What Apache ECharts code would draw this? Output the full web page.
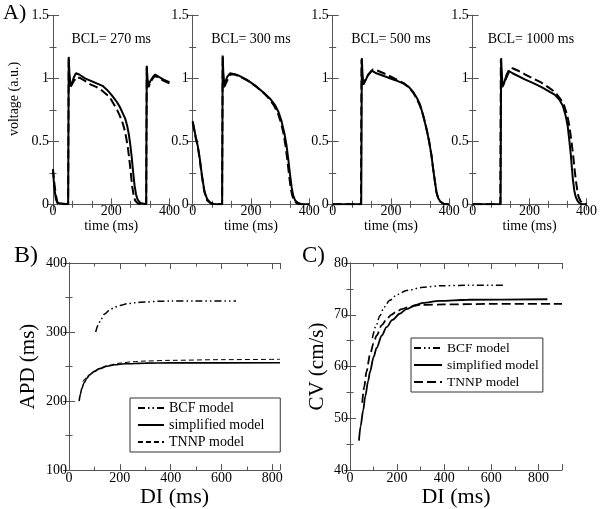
<!DOCTYPE html>
<html>
<head>
<meta charset="utf-8">
<script src="https://cdn.jsdelivr.net/npm/echarts@6/dist/echarts.min.js"></script>
<style>
html,body{margin:0;padding:0;background:#fff;}
#c{width:600px;height:509px;}
</style>
</head>
<body>
<div id="c"></div>
<script>
// ---------- DATA ----------
// Panel A: action potentials [time (ms), voltage (a.u.)]
const bclLabels = ['BCL= 270 ms', 'BCL= 300 ms', 'BCL= 500 ms', 'BCL= 1000 ms'];

const ap270Simplified = [[0,0.26],[5,0.12],[10,0.04],[15,0.01],[20,0],[52,0],[53,0.6],[54,1.17],[56,1.05],[60,0.94],[66,0.97],[72,1.01],[79,1.04],[90,1.03],[110,1.0],[130,0.98],[150,0.96],[170,0.94],[185,0.91],[200,0.87],[210,0.84],[220,0.81],[230,0.77],[240,0.72],[248,0.68],[255,0.62],[260,0.56],[265,0.48],[270,0.38],[275,0.26],[280,0.15],[285,0.08],[290,0.04],[300,0.01],[320,0],[321,0.6],[322,1.1],[324,1.0],[328,0.95],[335,0.98],[343,1.01],[351,1.03],[365,1.01],[380,0.99],[400,0.97]];
const ap270TNNP = [[0,0.28],[5,0.16],[10,0.07],[15,0.02],[20,0],[52,0],[53,0.6],[54,1.16],[56,1.0],[59,0.93],[65,0.95],[72,0.98],[82,1.01],[95,1.0],[110,0.98],[130,0.95],[150,0.93],[170,0.9],[185,0.87],[200,0.83],[210,0.79],[220,0.75],[230,0.7],[240,0.64],[247,0.58],[252,0.52],[257,0.45],[262,0.36],[267,0.25],[272,0.14],[277,0.07],[282,0.03],[290,0.01],[300,0],[320,0],[321,0.6],[322,1.1],[324,0.98],[328,0.93],[335,0.97],[343,1.0],[351,1.02],[365,1.0],[380,0.98],[400,0.96]];

const ap300Simplified = [[0,0.66],[5,0.6],[10,0.54],[15,0.49],[20,0.43],[25,0.35],[30,0.26],[35,0.18],[40,0.11],[45,0.07],[50,0.04],[60,0.015],[70,0.005],[80,0],[101,0],[102,0.6],[103,1.18],[105,1.05],[108,0.95],[112,0.97],[118,1.01],[128,1.04],[140,1.035],[160,1.02],[185,0.99],[210,0.95],[242,0.89],[265,0.84],[282,0.79],[295,0.73],[305,0.66],[315,0.56],[322,0.47],[328,0.36],[334,0.24],[340,0.13],[345,0.07],[352,0.03],[362,0.01],[375,0],[400,0]];
const ap300TNNP = [[0,0.65],[5,0.59],[10,0.53],[15,0.48],[20,0.42],[25,0.34],[30,0.25],[35,0.17],[40,0.1],[45,0.06],[50,0.03],[60,0.01],[70,0],[101,0],[102,0.6],[103,1.17],[105,1.0],[108,0.93],[112,0.95],[120,0.99],[130,1.03],[145,1.03],[165,1.01],[190,0.98],[215,0.94],[245,0.88],[265,0.83],[280,0.78],[293,0.72],[303,0.65],[312,0.56],[319,0.46],[325,0.35],[331,0.23],[337,0.12],[343,0.06],[350,0.02],[360,0.005],[370,0],[400,0]];

const ap500Simplified = [[0,0],[98,0],[99,0.6],[100,1.16],[102,1.05],[105,0.95],[110,0.97],[120,1.02],[134,1.06],[150,1.04],[185,1.01],[215,0.985],[242,0.96],[262,0.93],[277,0.89],[290,0.84],[300,0.79],[310,0.71],[322,0.6],[331,0.5],[339,0.39],[345,0.28],[351,0.18],[356,0.1],[362,0.05],[370,0.02],[380,0.005],[390,0],[400,0]];
const ap500TNNP = [[0,0],[97,0],[98,0.6],[99,1.15],[101,1.02],[104,0.95],[110,0.98],[122,1.03],[138,1.07],[155,1.06],[185,1.03],[215,0.995],[245,0.96],[265,0.92],[278,0.88],[290,0.83],[300,0.78],[310,0.71],[322,0.6],[331,0.5],[339,0.39],[345,0.28],[351,0.18],[356,0.1],[362,0.05],[370,0.02],[380,0.005],[390,0],[400,0]];

const ap1000Simplified = [[0,0],[98,0],[99,0.6],[100,1.16],[102,1.05],[105,0.94],[110,0.96],[118,1.02],[126,1.06],[140,1.04],[185,0.99],[215,0.96],[242,0.93],[265,0.9],[288,0.87],[305,0.83],[317,0.78],[327,0.7],[334,0.62],[340,0.5],[345,0.39],[349,0.28],[352,0.2],[357,0.11],[362,0.06],[368,0.03],[375,0.01],[385,0],[400,0]];
const ap1000TNNP = [[0,0],[97,0],[98,0.6],[99,1.15],[101,1.0],[104,0.93],[110,0.96],[125,1.04],[140,1.08],[160,1.06],[185,1.03],[215,0.995],[242,0.965],[265,0.93],[290,0.89],[310,0.83],[322,0.78],[333,0.7],[340,0.62],[347,0.5],[353,0.39],[358,0.28],[362,0.2],[367,0.12],[372,0.06],[378,0.03],[385,0.01],[392,0],[400,0]];

// Panel B: APD restitution [DI (ms), APD (ms)]
const apdBCF = [[105,300],[115,310],[125,318],[140,326],[160,332],[180,336],[200,338.5],[230,341],[260,342.5],[300,343.5],[350,344.5],[400,345],[500,345],[657,345]];
const apdSimplified = [[40,200],[45,210],[50,218],[60,227],[70,233],[80,237.5],[100,243],[120,247],[150,250.5],[180,252.5],[220,254],[300,255],[400,255.3],[830,255.5]];
const apdTNNP = [[55,228],[65,233],[80,238.5],[100,243.5],[120,247.5],[150,251.5],[200,255],[250,257],[300,258],[400,259],[600,260],[830,260.5]];

// Panel C: CV restitution [DI (ms), CV (cm/s)]
const cvBCF = [[95,65.5],[110,67.8],[127,69.8],[145,71.5],[169,72.8],[200,73.9],[240,74.7],[310,75.3],[380,75.6],[500,75.7],[655,75.7]];
const cvSimplified = [[38,45.7],[45,48.5],[56,51.6],[65,54.3],[77,57.2],[85,59],[100,61.8],[113,63.6],[135,66],[155,67.6],[180,69],[211,70.2],[240,71.1],[280,71.9],[310,72.3],[380,72.7],[500,72.9],[838,73]];
const cvTNNP = [[52,53],[60,56],[70,59],[85,62.3],[100,64.5],[113,66],[135,68],[155,69.1],[175,70],[197,70.6],[220,71.1],[250,71.5],[300,71.9],[400,72.0],[600,72.1],[900,72.1]];

const legendNames = ['BCF model', 'simplified model', 'TNNP model'];

// ---------- LAYOUT / STYLE ----------
const FONT = 'Liberation Serif';
const AX = '#555';
const topLefts = [53, 192.7, 332.7, 472.7];
const topGrid = {top: 15.3, width: 116.5, height: 189};
const grids = topLefts.map(l => ({left: l, top: topGrid.top, width: topGrid.width, height: topGrid.height}));
grids.push({left: 69, top: 263, width: 211, height: 210});
grids.push({left: 350, top: 263, width: 212, height: 210});

const xAxes = [], yAxes = [];
function baseAxis(g, min, max, interval, minorSplit) {
  return {
    gridIndex: g, type: 'value', min, max, interval,
    axisLine: {show: true, lineStyle: {color: AX, width: 1}},
    axisTick: {show: true, inside: true, length: 6, lineStyle: {color: AX}},
    minorTick: {show: true, splitNumber: minorSplit, length: 3.5, lineStyle: {color: AX}},
    splitLine: {show: false}, minorSplitLine: {show: false}
  };
}
function addX(g, min, max, interval, minorSplit, opts) {
  const base = baseAxis(g, min, max, interval, minorSplit);
  const label = {show: true, fontFamily: FONT, fontSize: opts.labelSize, color: '#000', margin: opts.labelMargin};
  if (opts.showMax === false) label.showMaxLabel = false;
  xAxes.push(Object.assign({}, base, {
    position: 'bottom',
    axisLabel: label,
    name: opts.name || '', nameLocation: 'middle', nameGap: opts.nameGap,
    nameTextStyle: {fontFamily: FONT, fontSize: opts.nameSize, color: '#000'}
  }));
  xAxes.push(Object.assign({}, base, {position: 'top', axisLabel: {show: false}}));
}
function addY(g, min, max, interval, minorSplit, opts) {
  const base = baseAxis(g, min, max, interval, minorSplit);
  yAxes.push(Object.assign({}, base, {
    position: 'left',
    axisLabel: {show: true, fontFamily: FONT, fontSize: opts.labelSize, color: '#000', margin: opts.labelMargin},
    name: opts.name || '', nameLocation: 'middle', nameGap: opts.nameGap,
    nameTextStyle: {fontFamily: FONT, fontSize: opts.nameSize, color: '#000'}
  }));
  yAxes.push(Object.assign({}, base, {position: 'right', axisLabel: {show: false}}));
}

for (let g = 0; g < 4; g++) {
  addX(g, 0, 400, 200, 3, {labelSize: 14, labelMargin: 0, name: 'time (ms)', nameGap: 13, nameSize: 14});
  addY(g, 0, 1.5, 0.5, 2, {labelSize: 14, labelMargin: 4});
}
addX(4, 0, 830, 200, 2, {labelSize: 14, labelMargin: 1, name: 'DI (ms)', nameGap: 5, nameSize: 22});
addY(4, 100, 400, 100, 2, {labelSize: 14, labelMargin: 2, name: 'APD (ms)', nameGap: 30, nameSize: 21});
addX(5, 0, 900, 200, 2, {labelSize: 14, labelMargin: 1, name: 'DI (ms)', nameGap: 5, nameSize: 22, showMax: false});
addY(5, 40, 80, 10, 2, {labelSize: 14, labelMargin: 2, name: 'CV (cm/s)', nameGap: 22, nameSize: 21});

const series = [];
function line(g, name, data, lineStyle, smooth) {
  series.push({
    type: 'line', name, data, xAxisIndex: 2 * g, yAxisIndex: 2 * g,
    symbol: 'none', showSymbol: false, smooth: smooth || false,
    smoothMonotone: smooth ? 'x' : undefined,
    lineStyle: Object.assign({color: '#000'}, lineStyle),
    itemStyle: {color: '#000'},
    animation: false, silent: true
  });
}
const apSets = [
  [ap270Simplified, ap270TNNP], [ap300Simplified, ap300TNNP],
  [ap500Simplified, ap500TNNP], [ap1000Simplified, ap1000TNNP]
];
apSets.forEach((pair, g) => {
  line(g, 'A' + g + ' simplified', pair[0], {width: 2, type: 'solid'});
  line(g, 'A' + g + ' TNNP', pair[1], {width: 2, type: [9, 4]});
});
const dashDotDot = [7, 3, 1.5, 3, 1.5, 3];
line(4, legendNames[0], apdBCF, {width: 1.5, type: dashDotDot}, 0.3);
line(4, legendNames[1], apdSimplified, {width: 1.6, type: 'solid'}, 0.3);
line(4, legendNames[2], apdTNNP, {width: 1, type: [5, 3]}, 0.3);
line(5, 'C ' + legendNames[0], cvBCF, {width: 1.5, type: dashDotDot}, 0.3);
line(5, 'C ' + legendNames[1], cvSimplified, {width: 1.8, type: 'solid'}, 0.3);
line(5, 'C ' + legendNames[2], cvTNNP, {width: 1.8, type: [9, 4]}, 0.3);

const legendCommon = {
  orient: 'vertical', itemHeight: 14, itemGap: 3,
  backgroundColor: '#fff', borderColor: '#333', borderWidth: 1, borderRadius: 0,
  itemStyle: {opacity: 0},
  selectedMode: false
};
const legends = [
  Object.assign({}, legendCommon, {left: 130, top: 398, itemWidth: 26, padding: [3, 16, 3, 7],
    textStyle: {fontFamily: FONT, fontSize: 14, color: '#000'},
    data: legendNames.map(n => ({name: n, textStyle: {fontFamily: FONT, fontSize: 14}}))}),
  Object.assign({}, legendCommon, {left: 411, top: 338, itemWidth: 28, padding: [3, 4, 3, 2],
    textStyle: {fontFamily: FONT, fontSize: 13.5, color: '#000'},
    data: legendNames.map(n => ({name: 'C ' + n, textStyle: {fontFamily: FONT, fontSize: 13.5}})),
    formatter: n => n.slice(2)})
];

const graphics = [
  {type: 'text', left: 3, top: 2, style: {text: 'A)', font: '22px "Liberation Serif"', fill: '#000'}},
  {type: 'text', left: 14, top: 244, style: {text: 'B)', font: '24px "Liberation Serif"', fill: '#000'}},
  {type: 'text', left: 302, top: 244, style: {text: 'C)', font: '23px "Liberation Serif"', fill: '#000'}},
  {type: 'text', x: 14, y: 99, rotation: Math.PI / 2,
   style: {text: 'voltage (a.u.)', font: '14px "Liberation Serif"', fill: '#000', align: 'center', verticalAlign: 'middle'}}
];
bclLabels.forEach((t, i) => {
  graphics.push({type: 'text', x: topLefts[i] + topGrid.width / 2, y: 39,
    style: {text: t, font: '14px "Liberation Serif"', fill: '#000', align: 'center', verticalAlign: 'middle'}});
});

const chart = echarts.init(document.getElementById('c'), null, {renderer: 'canvas'});
chart.setOption({
  backgroundColor: '#fff',
  animation: false,
  grid: grids,
  xAxis: xAxes,
  yAxis: yAxes,
  legend: legends,
  series: series,
  graphic: graphics
});
</script>
</body>
</html>
